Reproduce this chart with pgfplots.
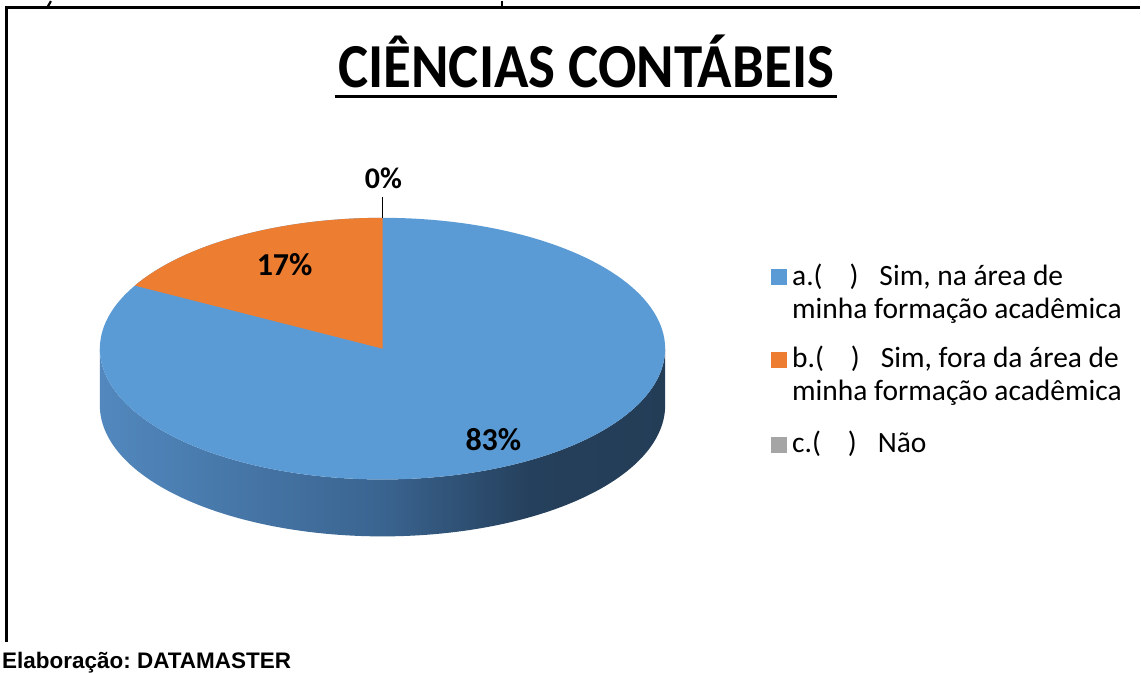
\documentclass[border=0pt]{standalone}
\usepackage{pgfplots}
\pgfplotsset{compat=1.18}
\usepackage{pgfplotstable}
\usepackage{fontspec}
\setmainfont{Carlito}
\newfontfamily\lib{Liberation Sans}
\frenchspacing

\definecolor{cA}{RGB}{91,155,213}
\definecolor{cB}{RGB}{237,125,49}
\definecolor{cC}{RGB}{165,165,165}
\definecolor{sA}{RGB}{82,136,190}
\definecolor{sB}{RGB}{58,100,144}
\definecolor{sC}{RGB}{37,64,92}
\definecolor{sD}{RGB}{36,61,87}
\pgfdeclarehorizontalshading{sideshade}{100bp}{color(0bp)=(sA); color(25bp)=(sA); color(50bp)=(sB); color(63bp)=(sC); color(75bp)=(sD); color(100bp)=(sD)}

\pgfplotstableread[col sep=comma]{
label,value
a,83
b,17
c,0
}\piedata
\pgfplotstablegetelem{1}{value}\of\piedata
\let\vB\pgfplotsretval
\pgfmathsetmacro\spanB{3.6*\vB}

\begin{document}
\begin{tikzpicture}
\begin{axis}[
  scale only axis, width=1141pt, height=672pt,
  xmin=0, xmax=1141, ymin=0, ymax=672,
  hide axis, clip=false,
]
\fill[white] (axis cs:0,0) rectangle (axis cs:1141,672);
% pie side (front half)
\addplot[draw=none, shading=sideshade, variable=\t, domain=0:2, samples=241]
  ({383+283*cos(180+180*min(\t,2-\t))},
   {324+131*sin(180+180*min(\t,2-\t))-57*(\t>1)});
% top face: blue (a)
\addplot[draw=none, fill=cA, variable=\t, domain=0:360, samples=181]
  ({383+283*cos(\t)},{324+131*sin(\t)});
% orange sector (b)
\addplot[draw=none, fill=cB, variable=\t, domain=0:2, samples=201]
  ({383+283*(\t<1.001)*cos(90+\spanB*min(\t,1))},
   {324+131*(\t<1.001)*sin(90+\spanB*min(\t,1))});
% legend squares
\addplot[only marks, mark=square*, mark size=7.5pt, color=cA] coordinates {(780,396)};
\addplot[only marks, mark=square*, mark size=7.5pt, color=cB] coordinates {(780,313)};
\addplot[only marks, mark=square*, mark size=7.5pt, color=cC] coordinates {(780,228)};

% leader line for 0%
\draw[line width=1.2pt] (axis cs:383,476) -- (axis cs:383,455);
% data labels
\node[anchor=base, inner sep=0, font=\bfseries\fontsize{30}{32}\selectfont] at (axis cs:384,484) {0\%};
\node[anchor=base, inner sep=0, font=\bfseries\fontsize{32}{36}\selectfont] at (axis cs:285,397) {17\%};
\node[anchor=base, inner sep=0, font=\bfseries\fontsize{32}{36}\selectfont] at (axis cs:494,222) {83\%};

% legend texts
\begin{scope}[every node/.style={anchor=base west, inner sep=0, font=\fontsize{29.5}{33}\selectfont}]
\node at (axis cs:793,387) {a.(\hspace{27pt})\hspace{21pt}Sim, na área de};
\node at (axis cs:793,354) {minha formação acadêmica};
\node at (axis cs:793,305) {b.(\hspace{27pt})\hspace{21pt}Sim, fora da área de};
\node at (axis cs:793,272) {minha formação acadêmica};
\node at (axis cs:793,220) {c.(\hspace{27pt})\hspace{21pt}Não};
\end{scope}

% title
\node[anchor=base, inner sep=0, font=\bfseries\fontsize{57}{60}\selectfont] at (axis cs:587,585) {\scalebox{1}[1.1]{CIÊNCIAS CONTÁBEIS}};
\draw[line width=3pt] (axis cs:335,576) -- (axis cs:838,576);

% frame and cut-off page fragments
\draw[line width=3pt] (axis cs:1141,666) -- (axis cs:7,666) -- (axis cs:7,30);
\draw[line width=2pt] (axis cs:503,666) -- (axis cs:503,672);
\draw[line width=2.2pt] (axis cs:47,665) -- (axis cs:51,672);

% source
\node[anchor=base west, inner sep=0, font=\lib\bfseries\fontsize{22.5}{26}\selectfont] at (axis cs:2,4) {Elaboração: DATAMASTER};
\end{axis}
\end{tikzpicture}
\end{document}
